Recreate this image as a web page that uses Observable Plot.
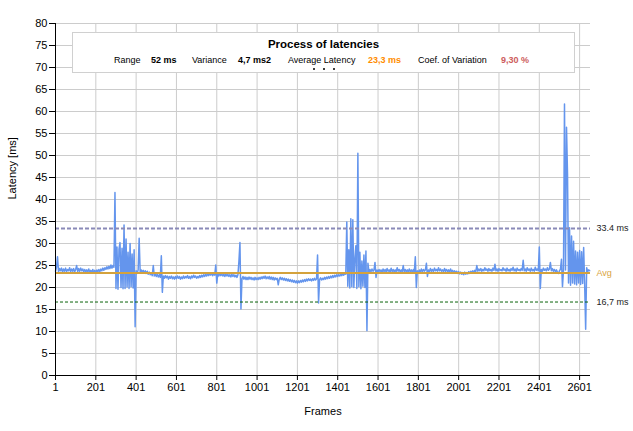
<!DOCTYPE html>
<html><head><meta charset="utf-8">
<script src="https://cdn.jsdelivr.net/npm/d3@7"></script>
<script src="https://cdn.jsdelivr.net/npm/@observablehq/plot@0.6"></script>
<style>
body{margin:0;background:#fff;font-family:"Liberation Sans",Arial,sans-serif}
#wrap{position:relative;width:633px;height:431px;overflow:hidden}
#box{position:absolute;left:72px;top:32px;width:501px;height:39px;border:1px solid #d0d0d0;background:#fff}
#box .t{position:absolute;left:0;right:0;top:5px;text-align:center;font-weight:bold;font-size:11.5px;color:#000}
#box .s{position:absolute;top:22px;font-size:9px;white-space:nowrap;color:#000}
#box .b{font-weight:bold}
#box .dot{position:absolute;top:35px;width:2px;height:2px;border-radius:1px;background:#000}
</style></head>
<body><div id="wrap"></div>
<script>
// latency per sample, one sample every 5 frames starting at frame 1
const frameStep = 5;
const latency = [
23.7,24.6,27.0,23.6,24.3,23.8,24.4,23.5,24.2,23.7,
24.4,23.6,24.1,23.8,24.5,23.6,24.2,23.7,24.3,23.5,
24.1,25.0,23.6,24.3,23.7,24.4,23.8,24.2,23.6,24.1,
23.5,24.0,23.6,24.2,23.4,23.9,23.5,24.1,23.3,23.9,
23.4,24.0,23.5,24.1,23.6,24.2,23.8,24.4,23.9,24.5,
24.1,24.7,24.2,24.8,24.3,25.1,24.4,25.0,24.6,41.6,
19.8,29.2,19.6,28.7,30.2,20.0,28.9,19.7,34.2,19.8,
31.0,20.1,28.0,19.8,30.0,20.2,27.6,19.9,28.6,11.1,
23.8,23.2,24.0,31.2,23.4,24.0,23.5,23.9,23.3,23.8,
23.2,23.7,23.0,23.5,22.9,23.3,22.7,25.0,22.6,23.1,
22.5,23.0,22.4,22.9,22.3,27.2,18.9,22.6,22.1,22.7,
22.2,22.6,21.9,22.5,22.1,22.6,22.0,22.4,21.9,22.5,
22.0,22.6,22.1,22.5,21.9,22.4,22.0,22.6,22.1,22.5,
22.2,22.7,22.1,22.5,22.0,22.6,22.2,22.8,22.3,22.6,
22.1,22.5,22.2,22.7,22.3,22.8,22.4,22.9,22.5,23.0,
22.6,23.1,22.7,23.2,22.8,23.3,22.7,23.2,22.8,25.1,
21.0,23.1,22.6,23.2,22.7,23.1,22.6,23.0,22.5,23.1,
22.6,23.0,22.5,22.9,22.4,23.0,22.5,22.9,22.4,22.8,
22.3,22.9,26.0,30.2,15.1,22.0,22.5,21.9,22.4,21.8,
22.3,21.8,22.4,21.9,22.3,21.8,22.2,21.7,22.3,21.8,
22.2,21.8,22.3,21.9,22.4,22.0,22.5,22.1,22.6,22.0,
22.4,22.0,22.5,21.9,22.4,21.8,22.3,21.7,22.2,21.8,
22.1,20.6,21.9,22.3,21.8,22.2,21.7,22.1,21.6,22.0,
21.5,21.9,21.4,21.8,21.3,21.7,21.2,21.6,21.1,21.5,
21.0,21.5,21.1,21.6,21.2,21.7,21.3,21.8,21.4,21.9,
21.5,22.0,21.6,21.9,21.5,22.0,21.6,22.1,21.7,22.0,
27.4,16.5,21.8,22.2,21.7,22.1,21.8,22.3,21.9,22.4,
22.0,22.5,22.1,22.6,22.2,22.7,22.3,22.8,22.4,22.9,
22.5,22.9,22.6,23.0,22.7,23.1,22.8,23.2,23.0,34.9,
20.3,28.6,19.9,35.6,20.2,35.4,20.0,26.5,29.5,19.8,
50.5,20.2,28.0,19.7,26.0,20.3,27.4,20.0,28.3,10.2,
25.5,23.4,24.1,23.6,24.2,23.7,24.0,25.7,22.3,24.0,
23.5,24.1,23.6,24.0,23.4,24.2,23.6,24.1,23.5,24.3,
23.7,24.0,23.5,24.4,23.6,24.1,23.5,24.0,23.6,24.5,
23.7,24.1,23.5,24.0,23.6,25.0,23.5,24.1,23.6,24.0,
23.5,24.2,23.6,24.0,23.4,24.1,23.5,27.0,20.0,23.8,
23.4,24.0,23.5,24.2,23.6,24.1,23.7,24.0,25.5,22.5,
24.0,23.6,24.3,23.7,24.1,23.6,24.4,23.8,24.1,23.7,
24.5,23.8,24.2,23.7,24.0,23.6,24.3,23.7,24.1,23.6,
24.0,23.5,24.2,23.6,23.9,23.4,23.8,23.3,23.7,23.2,
23.6,23.1,23.5,23.0,23.4,22.9,23.5,23.0,23.4,23.1,
23.6,23.2,23.7,23.3,23.8,23.4,23.9,23.6,25.0,23.7,
24.2,23.8,24.3,23.7,24.1,23.8,24.5,23.9,24.2,23.7,
24.3,23.8,24.1,23.7,24.4,23.9,25.3,23.8,24.2,23.7,
24.3,23.9,24.1,23.8,24.5,23.9,24.2,23.7,24.4,23.8,
24.1,23.7,24.3,23.9,24.6,23.8,24.2,23.7,24.4,23.9,
24.1,23.8,24.3,23.9,26.2,23.8,24.2,23.7,24.5,23.9,
24.2,23.7,24.4,23.8,24.1,23.7,24.6,23.9,24.2,23.8,
29.2,19.8,24.1,23.7,24.4,23.9,24.2,23.8,24.5,23.9,
24.2,25.7,23.8,24.3,23.7,24.1,23.6,24.0,23.5,23.2,
23.8,24.2,26.4,20.2,24.0,61.7,24.0,56.4,45.8,21.0,
33.6,20.5,31.7,21.0,30.5,20.8,28.3,20.6,28.0,21.0,
28.4,20.7,28.1,20.9,29.1,20.8,10.5,24.5,23.6,24.0,
23.8
];
const frames = latency.map((_, i) => 1 + i * frameStep);
const xTicks = [1,201,401,601,801,1001,1201,1401,1601,1801,2001,2201,2401,2601];
const yTicks = [0,5,10,15,20,25,30,35,40,45,50,55,60,65,70,75,80];
const refValues = [33.4, 23.3, 16.7];
const refLabels = ["33.4 ms", "Avg", "16,7 ms"];
const refColors = ["#222", "#D9A441", "#222"];
const titleText = "Process of latencies";
const statNames = ["Range", "Variance", "Average Latency", "Coef. of Variation"];
const statValues = ["52 ms", "4,7 ms2", "23,3 ms", "9,30 %"];
const statColors = ["#000", "#000", "#FF8C00", "#CD5C5C"];

const data = latency.map((v, i) => ({frame: frames[i], latency: v}));
const refs = refValues.map((v, i) => ({value: v, label: refLabels[i], color: refColors[i]}));

const chart = Plot.plot({
  width: 633, height: 431,
  marginLeft: 55, marginRight: 43, marginTop: 23, marginBottom: 56,
  style: {fontFamily: "'Liberation Sans', Arial, sans-serif", fontSize: "11px", background: "#fff", color: "#000"},
  x: {domain: [1, 2655]},
  y: {domain: [0, 80]},
  marks: [
    Plot.gridX(xTicks.slice(1), {stroke: "#cccccc", strokeOpacity: 1}),
    Plot.gridY(yTicks.slice(1), {stroke: "#cccccc", strokeOpacity: 1}),
    Plot.line(data, {x: "frame", y: "latency", stroke: "#6495ED", strokeWidth: 1.5, strokeLinejoin: "round"}),
    Plot.ruleY([refValues[0]], {stroke: "#8A8AB8", strokeWidth: 2, strokeDasharray: "4,2"}),
    Plot.ruleY([refValues[2]], {stroke: "#0A640A", strokeWidth: 1, strokeDasharray: "3,2"}),
    Plot.ruleY([refValues[1]], {stroke: "#D4A23C", strokeWidth: 2}),
    Plot.text(refs, {frameAnchor: "right", y: "value", text: "label", fill: "color", dx: 6, textAnchor: "start", fontSize: 9}),
    Plot.axisX(xTicks, {tickSize: 5, tickPadding: 3, tickFormat: d => String(d), label: null}),
    Plot.axisY(yTicks, {tickSize: 6, tickPadding: 2, tickFormat: d => String(d), label: null}),
    Plot.ruleX([1], {stroke: "#000"}),
    Plot.ruleY([0], {stroke: "#000"}),
    Plot.text(["Frames"], {frameAnchor: "bottom", dy: 39, text: d => d, fontSize: 11}),
    Plot.text(["Latency [ms]"], {frameAnchor: "left", dx: -43, rotate: -90, text: d => d, fontSize: 11})
  ]
});
const wrap = document.getElementById("wrap");
wrap.appendChild(chart);

// title box overlay
const box = document.createElement("div");
box.id = "box";
const t = document.createElement("div");
t.className = "t"; t.textContent = titleText; box.appendChild(t);
const nameX = [41, 119, 215, 345];
const valX = [78, 165, 295, 428];
statNames.forEach((n, i) => {
  const a = document.createElement("span");
  a.className = "s"; a.style.left = nameX[i] + "px"; a.textContent = n; box.appendChild(a);
  const b = document.createElement("span");
  b.className = "s b"; b.style.left = valX[i] + "px"; b.style.color = statColors[i]; b.textContent = statValues[i];
  box.appendChild(b);
});
[240, 250, 260].forEach(x => {
  const d = document.createElement("div"); d.className = "dot"; d.style.left = x + "px"; box.appendChild(d);
});
wrap.appendChild(box);
</script>
</body></html>
